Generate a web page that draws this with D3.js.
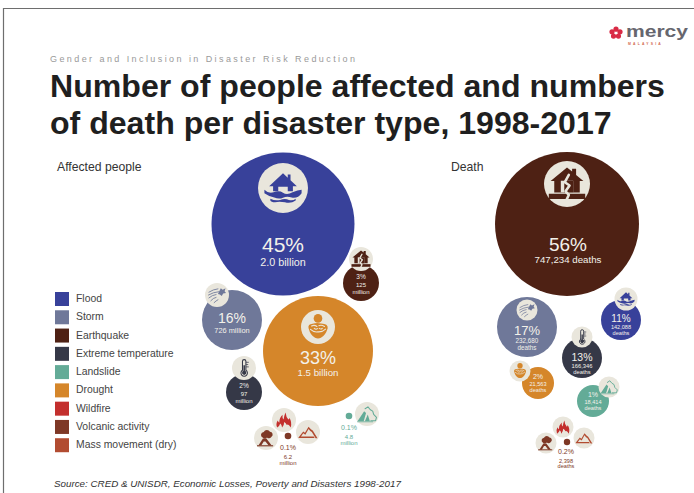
<!DOCTYPE html>
<html><head><meta charset="utf-8">
<script src="https://cdnjs.cloudflare.com/ajax/libs/d3/7.8.5/d3.min.js"></script>
<style>html,body{margin:0;padding:0;background:#fff}svg{display:block}text{font-family:"Liberation Sans",Arial,sans-serif}</style>
</head><body><svg id="c" width="694" height="493"></svg>
<script>
// ---------- data ----------
const categories = ["Flood","Storm","Earthquake","Extreme temperature","Landslide","Drought","Wildfire","Volcanic activity","Mass movement (dry)"];
const bubbleKeys = ["Flood","Storm","Earthquake","Extreme temperature","Landslide","Drought","Volcanic activity"];
const affectedPct = [45,16,3,2,0.1,33,0.1];
const affectedAmount = ["2.0 billion","726 million","125|million","97|million","4.8|million","1.5 billion","6.2|million"];
const deathPct = [11,17,56,13,1,2,0.2];
const deathAmount = ["142,088|deaths","232,680|deaths","747,234 deaths","166,346|deaths","18,414|deaths","21,563|deaths","2,398|deaths"];
const tickRadiusPctAffected = [0.1,2,3,16,33,45];
const tickRadiusPctDeath = [0.2,1,2,11,13,17,56];

// ---------- styles & layout ----------
const palette = ["#38419a","#6f7899","#4e2114","#353847","#63ab97","#d5862a","#c32f2d","#7e3826","#b24c31"];
const color = d3.scaleOrdinal().domain(categories).range(palette);
const iconBg = "#e9e6dc";
const rAffected = d3.scaleLinear().domain(tickRadiusPctAffected).range([3.3,18,18,30,55,71.5]);
const rDeath = d3.scaleLinear().domain(tickRadiusPctDeath).range([3.2,16,16,20,20,30,72]);

const layoutAffected = [
 {x:283,y:224,tx:283,p:252,ps:21,a:[266],as:10.8},
 {x:232,y:320,tx:232,p:323,ps:14,a:[333],as:7.4},
 {x:361,y:283,tx:361,p:279,ps:6.5,a:[287,293.5],as:6},
 {x:244,y:392,tx:244,p:388,ps:6.5,a:[396,402.5],as:6},
 {x:349,y:416,tx:349,p:430,ps:7,a:[439,445],as:6,out:1},
 {x:318,y:351,tx:318,p:364,ps:18,a:[376],as:9.7},
 {x:288,y:436,tx:288,p:450,ps:7,a:[459,465],as:6,out:1}
];
const layoutDeath = [
 {x:621,y:320,tx:621,p:322,ps:10,a:[329,334.5],as:5.6},
 {x:527,y:327,tx:527,p:335,ps:13,a:[342.5,349.5],as:6.3},
 {x:567,y:224,tx:568,p:251,ps:19,a:[263],as:9.7},
 {x:582,y:358,tx:582,p:361,ps:10.5,a:[367.5,373.5],as:5.8},
 {x:593,y:401,tx:593,p:397,ps:7,a:[404,410],as:5.6},
 {x:538,y:383,tx:538,p:379,ps:7,a:[386,391.5],as:5.6},
 {x:567,y:442,tx:566,p:454,ps:7,a:[462.5,467.5],as:5.6,out:1}
];
const iconsAffected = [[283,188,25],[217,295,12],[361,259,12],[244,368,12],[367,414,12],[318,327,17],[284,420,12],[266,438,12],[308,432,12]];
const iconsDeath = [[626,299,11.5],[527,310,10.5],[567,184,23],[582,337,10.5],[609,387,10.5],[520,371,10.5],[563,427,10.5],[546,443,10.5],[584,438,10.5]];

const glyphs = {
 "Flood":[
  ["f","M0,-7.4 L2.4,-5.2 V-6.8 H3.8 V-3.9 L7,-0.9 H5 V1.6 H2.4 V-0.6 H-2.4 V1.6 H-5 V-0.9 H-7 Z"],
  ["f","M-9.4,0.9 Q-7.5,2.9 -4.8,2.2 Q-2,1 0,2.4 Q2,3.8 4.8,2.2 Q7.5,1.1 9.4,0.9 V2.6 Q7.5,5.4 4.4,4.8 Q2,4 0,4.9 Q-2,5.8 -4.4,4.8 Q-7.5,4 -9.4,2.6 Z"],
  ["f","M-6.4,5.4 Q-4,6.6 -1.5,6 Q1,5.2 3,6 Q5,6.6 6.4,5.4 V6.3 Q4,8 1,7.2 Q-2,6.6 -4,7.2 Q-6,7.2 -6.4,6.3 Z"]],
 "Storm":[
  ["s","M-8.5,-3 Q-4,-6 1,-6.5 M-9,0 Q-4,-3 2,-3.5 M-8.5,3 Q-5,0 -1,-0.5 M-6.5,6 Q-4,3 -1,2.5 M-3,8 Q-1,6 1,5",0.9],
  ["f","M1,-1 L4,-7 L6,-5.5 L9,-7 L8,-4 L9.5,-2 L6.5,-1.5 L5,1 L3,-0.5 Z"]],
 "Earthquake":[
  ["f","M0,-9 L2.8,-6.8 V-8.4 H5 V-5 L9,-1.6 H7 V4.6 H-7 V-1.6 H-9 Z"],
  ["b","M-3.4,-1.8 H3.4 V4.6 H-3.4 Z"],
  ["f","M-10,5.4 H10 V8.2 H-10 Z"],
  ["f","M-1.5,-1.8 H3.4 V4.6 H-1.5 Z"],
  ["s2","M1,-5 L-1.2,-1 L1.4,0.8 L-0.8,4 L1,6 L-0.4,9",1.4]],
 "Extreme temperature":[
  ["s","M-1.6,2.4 V-7 A1.8,1.8 0 0 1 2,-7 V2.4 A3.4,3.4 0 1 1 -1.6,2.4 Z",1.1],
  ["f","M-0.6,-3 H1 V3 A2.2,2.2 0 1 1 -0.6,3 Z"],
  ["s","M2.6,-6 H4.6 M2.6,-3.6 H4 M2.6,-1.2 H4.6",0.8]],
 "Landslide":[
  ["f","M-10,7.5 L-3,-3 L-1,-1 L-3.5,7.5 Z M-2.2,7.5 L0.8,0.5 L3,7.5 Z"],
  ["s","M-2,-5.5 L1,-7.5 L3.5,-4.5 L6,-3 L7,0.5 L10,3.5 L9,7 L4,7",1.1],
  ["s","M-10,8.2 H6",0.8]],
 "Drought":[
  ["f","M-3.2,-6.4 a3.2,3.2 0 1 0 6.4,0 a3.2,3.2 0 1 0 -6.4,0"],
  ["f","M-7,1 Q-7.8,-2.2 -4,-2.4 Q-1,-3.6 2.4,-2.6 Q7.6,-2.4 7.2,1 Q5.6,6.4 2.2,8 Q0,9 -2.2,8 Q-5.6,6.4 -7,1 Z"],
  ["s2","M-4.8,-0.8 Q-2.6,-1.8 -0.8,-0.4 M0.6,-1 Q2.6,-1.8 4.8,-0.4 M-5.6,1.8 Q-3,4.2 0,3.6 Q3.4,3.8 5.6,1.6 M-2.8,1 Q-1.6,2 -0.4,1.2 M0.9,1 Q2.2,2 3.2,1",0.8]],
 "Wildfire":[
  ["f","M-7.2,8 Q-9,4 -6.6,0.4 Q-6,2 -5,2.8 Q-5,-2 -1.6,-5.4 Q-2,-2 -0.4,-0.6 Q0.2,-4.6 1.6,-7.8 Q2.2,-3 4.6,-0.4 Q5.6,-1 5.6,-2.4 Q8.8,2.4 7,8 Q4.6,3.6 3,5.2 Q2,3 0.2,2 Q0.2,5.6 -2,8 Q-2.4,4.6 -4,3.8 Q-4.4,6 -7.2,8 Z"]],
 "Volcanic activity":[
  ["f","M-3.6,-0.4 A3.2,3.2 0 0 1 -2.4,-6.4 A3.8,3.8 0 0 1 4.2,-6.6 A3,3 0 0 1 5.8,-1.2 A3,3 0 0 1 1,-0.6 A3.2,3.2 0 0 1 -3.6,-0.4 Z"],
  ["f","M-8,8 L-3.2,0.6 H0.4 L6,8 H2.8 L-0.6,3.6 H-2.4 L-5,8 Z"],
  ["f","M-9.5,7.6 H7.5 V8.8 H-9.5 Z"]],
 "Mass movement (dry)":[
  ["f","M-10,5.8 L-5,-0.5 L-3.2,0.8 L0.6,-5.6 L3,-3 L5,-1.6 L10,6.6 L8,6.6 L4,0 L2.4,-1 L0.6,-3.2 L-2.8,3 L-5,1.4 L-7.4,4.8 H6 L7,6.4 H-10 Z"]]
};

// ---------- drawing ----------
const svg = d3.select("#c");
svg.append("path").attr("d","M3.5,493 V8.5 H694").attr("fill","none").attr("stroke","#6e6e6e").attr("stroke-width",1.2);

// logo
const logo = svg.append("g");
logo.selectAll("circle.p").data(d3.range(5)).join("circle")
  .attr("cx",i=>616+4.2*Math.cos(i*1.257-1.57)).attr("cy",i=>33+3.8*Math.sin(i*1.257-1.57)).attr("r",2.6).attr("fill","#d92a45");
logo.append("text").attr("x",626).attr("y",37).attr("font-size",17).attr("font-weight",700).attr("fill","#66666e")
  .attr("textLength",62).attr("lengthAdjust","spacingAndGlyphs").text("mercy");
logo.append("text").attr("x",628).attr("y",44.5).attr("font-size",3.4).attr("font-weight",700).attr("letter-spacing",2.2).attr("fill","#d2674f").text("MALAYSIA");

// headings
svg.append("text").attr("x",50).attr("y",62).attr("font-size",9).attr("letter-spacing",2.42).attr("fill","#9a9a9a").text("Gender and Inclusion in Disaster Risk Reduction");
svg.selectAll("text.t").data(["Number of people affected and numbers","of death per disaster type, 1998-2017"]).join("text")
  .attr("class","t").attr("x",50).attr("y",(d,i)=>96.5+i*37).attr("font-size",32.1).attr("font-weight",700).attr("fill","#1f1f1f").text(d=>d);
svg.append("text").attr("x",57).attr("y",171).attr("font-size",12.2).attr("fill","#333").text("Affected people");
svg.append("text").attr("x",451).attr("y",171).attr("font-size",12.2).attr("fill","#333").text("Death");

// legend
const lg = d3.scaleBand().domain(categories).range([292,456.5]);
const leg = svg.selectAll("g.l").data(categories).join("g").attr("class","l").attr("transform",d=>`translate(55,${lg(d)})`);
leg.append("rect").attr("width",14).attr("height",14).attr("fill",d=>color(d));
leg.append("text").attr("x",21).attr("y",10).attr("font-size",10.4).attr("fill","#444").text(d=>d);

svg.append("text").attr("x",54).attr("y",487).attr("font-size",9.8).attr("font-style","italic").attr("fill","#333")
  .text("Source: CRED & UNISDR, Economic Losses, Poverty and Disasters 1998-2017");

function panel(pcts, amounts, layout, rScale, icons){
  const rows = bubbleKeys.map((k,i)=>({k,pct:pcts[i],amt:amounts[i],l:layout[i]}));
  svg.append("g").selectAll("circle").data(rows).join("circle")
    .attr("cx",d=>d.l.x).attr("cy",d=>d.l.y).attr("r",d=>rScale(d.pct)).attr("fill",d=>color(d.k));
  const ig = svg.append("g").selectAll("g").data(categories).join("g")
    .attr("transform",(d,i)=>`translate(${icons[i][0]},${icons[i][1]})`);
  ig.append("circle").attr("r",(d,i)=>icons[i][2]).attr("fill",iconBg);
  ig.each(function(d,i){
    const s = icons[i][2]/12*0.95, g = d3.select(this).append("g").attr("transform",`scale(${s})`);
    const c = color(d);
    glyphs[d].forEach(p=>{
      const e = g.append("path").attr("d",p[1]);
      if(p[0]==="f") e.attr("fill",c);
      else if(p[0]==="b") e.attr("fill",iconBg);
      else e.attr("fill","none").attr("stroke",p[0]==="s2"?iconBg:c).attr("stroke-width",p[2]).attr("stroke-linecap","round").attr("stroke-linejoin","round");
    });
  });
  const tg = svg.append("g").attr("text-anchor","middle");
  rows.forEach(d=>{
    const fill = d.l.out ? color(d.k) : "#f3f1ea";
    tg.append("text").attr("x",d.l.tx).attr("y",d.l.p).attr("font-size",d.l.ps).attr("fill",fill).text(d.pct+"%");
    d.amt.split("|").forEach((t,j)=>{
      tg.append("text").attr("x",d.l.tx).attr("y",d.l.a[j]).attr("font-size",d.l.as).attr("fill",fill).text(t);
    });
  });
}
panel(affectedPct,affectedAmount,layoutAffected,rAffected,iconsAffected);
panel(deathPct,deathAmount,layoutDeath,rDeath,iconsDeath);
</script></body></html>
